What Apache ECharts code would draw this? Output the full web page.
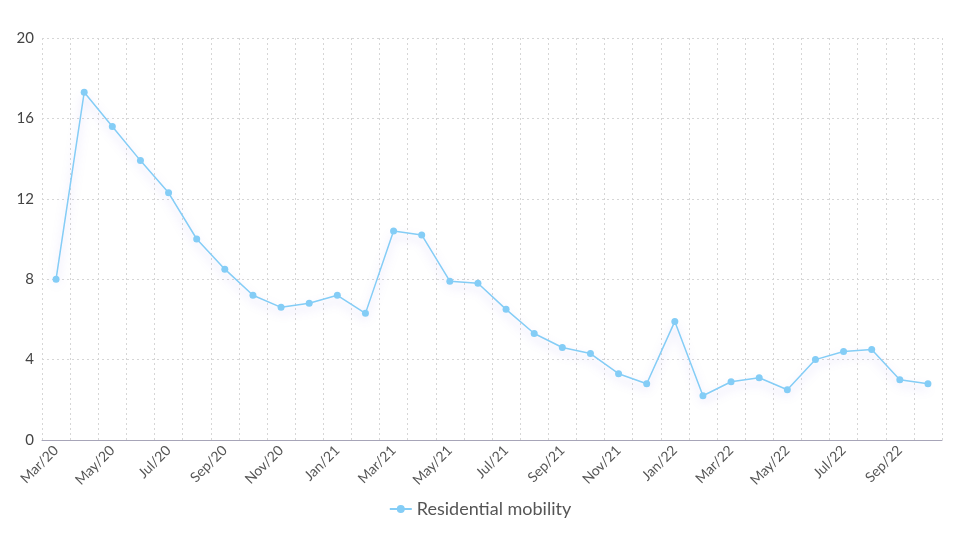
<!DOCTYPE html>
<html><head><meta charset="utf-8">
<script src="https://cdn.jsdelivr.net/npm/echarts@6/dist/echarts.min.js"></script>
<style>html,body{margin:0;padding:0;background:#fff}#c{width:960px;height:540px}</style>
</head><body><div id="c"></div>
<script>
const categories = ['Mar/20','Apr/20','May/20','Jun/20','Jul/20','Aug/20','Sep/20','Oct/20','Nov/20','Dec/20','Jan/21','Feb/21','Mar/21','Apr/21','May/21','Jun/21','Jul/21','Aug/21','Sep/21','Oct/21','Nov/21','Dec/21','Jan/22','Feb/22','Mar/22','Apr/22','May/22','Jun/22','Jul/22','Aug/22','Sep/22','Oct/22'];
const residential = [8.0,17.3,15.6,13.9,12.3,10.0,8.5,7.2,6.6,6.8,7.2,6.3,10.4,10.2,7.9,7.8,6.5,5.3,4.6,4.3,3.3,2.8,5.9,2.2,2.9,3.1,2.5,4.0,4.4,4.5,3.0,2.8];
const seriesName = 'Residential mobility';

const chart = echarts.init(document.getElementById('c'));
const font = 'Lato, "Noto Sans", sans-serif';
chart.setOption({
  animation: false,
  textStyle: {fontFamily: font},
  grid: {left: 42, right: 18, top: 38, bottom: 100},
  legend: {
    bottom: 17, left: 'center',
    itemWidth: 22, itemHeight: 10,
    textStyle: {fontSize: 18, color: '#555', fontFamily: font},
    data: [seriesName]
  },
  xAxis: {
    type: 'category',
    data: categories,
    boundaryGap: true,
    axisLine: {lineStyle: {color: '#a7a5b8'}},
    axisTick: {show: false},
    axisLabel: {interval: 1, rotate: 45, color: '#555', fontSize: 14, margin: 8, fontFamily: font},
    splitLine: {show: true, interval: 0, lineStyle: {type: [2, 3], color: '#d6d6d6'}}
  },
  yAxis: {
    type: 'value', min: 0, max: 20, interval: 4,
    axisLine: {show: false}, axisTick: {show: false},
    axisLabel: {color: '#444', fontSize: 15, margin: 8, fontFamily: font},
    splitLine: {lineStyle: {type: [2, 3], color: '#d6d6d6'}}
  },
  series: [{
    name: seriesName,
    type: 'line',
    data: residential,
    symbol: 'circle',
    symbolSize: 7,
    itemStyle: {color: '#84cdf6'},
    lineStyle: {width: 1.5, color: '#84cdf6', shadowColor: 'rgba(130,110,230,0.35)', shadowBlur: 10, shadowOffsetY: 5}
  }]
});
</script></body></html>
